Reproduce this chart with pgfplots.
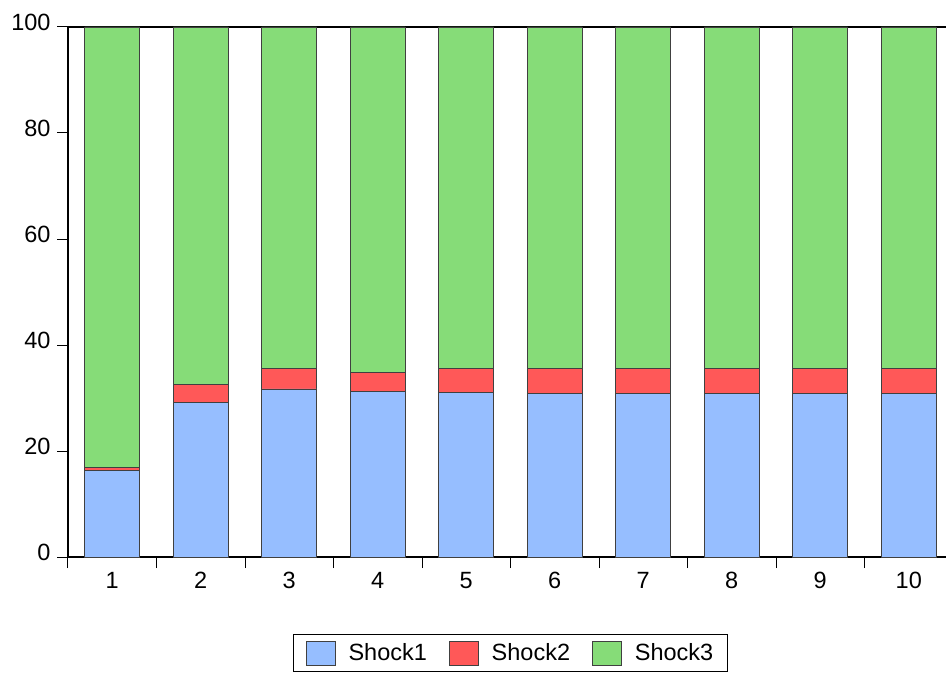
\documentclass[border=0pt]{standalone}
\usepackage{pgfplots}
\pgfplotsset{compat=1.18}
\usepackage{fontspec}
\setmainfont{Liberation Sans}

\definecolor{shockblue}{RGB}{150,190,255}
\definecolor{shockred}{RGB}{255,88,88}
\definecolor{shockgreen}{RGB}{134,220,120}
\newcommand\f{\fontsize{23.5}{27}\selectfont}

\pgfplotsset{sqleg/.style={legend image code/.code={\draw[##1] (0pt,-12pt) rectangle (29pt,12pt);}}}

\begin{document}
\begin{tikzpicture}
  \begin{axis}[
    scale only axis, width=885pt, height=530pt,
    ybar stacked, bar width=0.62,
    xmin=0.5, xmax=10.5, ymin=0, ymax=100,
    axis line style={line width=1.2pt},
    tick align=outside, tick pos=left,
    tick style={black, line width=1pt}, major tick length=11pt,
    xtick={0.5,1.5,...,10.5}, xticklabels={},
    extra x ticks={1,2,3,4,5,6,7,8,9,10},
    extra x tick style={major tick length=0pt, xticklabel style={yshift=-12pt}},
    ytick={0,20,...,100},
    ticklabel style={font=\f},
    yticklabel style={xshift=-3pt, yshift=5pt},
    /pgf/number format/assume math mode=true,
    legend style={at={(axis description cs:0.5,-0.1453)}, anchor=north,
      legend columns=-1, draw=black, line width=1pt, font=\f,
      inner xsep=12pt, inner ysep=6pt,
      /tikz/every odd column/.append style={column sep=11pt},
      /tikz/every even column/.append style={column sep=20pt}},
  ]
  \addplot[fill=shockblue, draw=black!75, line width=0.8pt, sqleg] coordinates {
    (1,16.4) (2,29.1) (3,31.7) (4,31.2) (5,31.0) (6,30.9) (7,30.8) (8,30.8) (9,30.8) (10,30.8)};
  \addplot[fill=shockred, draw=black!75, line width=0.8pt, sqleg] coordinates {
    (1,0.5) (2,3.4) (3,3.8) (4,3.6) (5,4.6) (6,4.6) (7,4.8) (8,4.8) (9,4.8) (10,4.8)};
  \addplot[fill=shockgreen, draw=black!75, line width=0.8pt, sqleg] coordinates {
    (1,83.1) (2,67.5) (3,64.5) (4,65.2) (5,64.4) (6,64.5) (7,64.4) (8,64.4) (9,64.4) (10,64.4)};
  \legend{Shock1, Shock2, Shock3}
  \end{axis}
  \pgfresetboundingbox
  \useasboundingbox (-68pt,-116pt) rectangle (878pt,557pt);
\end{tikzpicture}
\end{document}
